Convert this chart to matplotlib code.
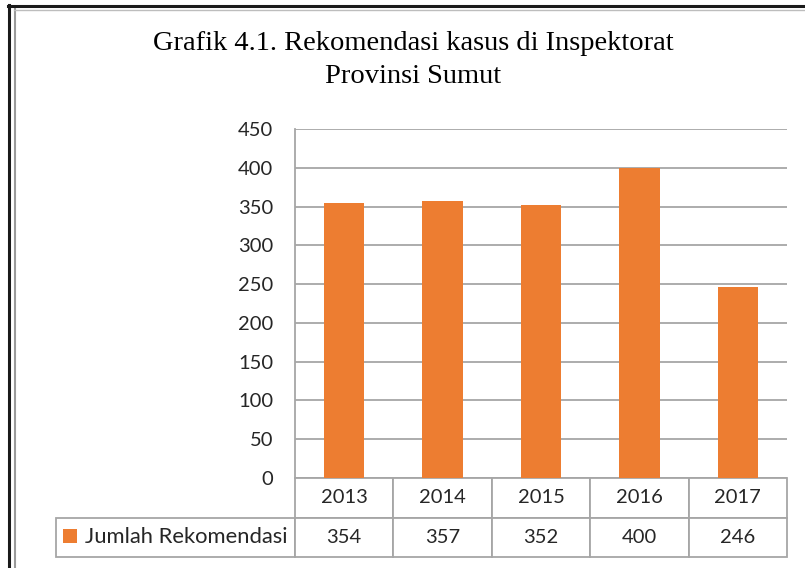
import matplotlib
matplotlib.use("Agg")
import matplotlib.pyplot as plt
from matplotlib.table import Table
from matplotlib.lines import Line2D
from matplotlib.patches import Rectangle

years = ["2013", "2014", "2015", "2016", "2017"]
values = [354, 357, 352, 400, 246]
series_name = "Jumlah Rekomendasi"
title_lines = ["Grafik 4.1. Rekomendasi kasus di Inspektorat", "Provinsi Sumut"]
yticks = [0, 50, 100, 150, 200, 250, 300, 350, 400, 450]

W, H = 805, 568
fig = plt.figure(figsize=(W / 100, H / 100), dpi=100)
fig.patch.set_facecolor("white")

# axes geometry in pixels
L, R, T, B = 295, 787, 129, 478
AW, AH = R - L, B - T
ax = fig.add_axes([L / W, 1 - B / H, AW / W, AH / H])

bar_color = "#ED7D31"
grid_color = "#A6A6A6"
text_color = "#262626"
sans = ["Lato", "DejaVu Sans"]

x = list(range(len(years)))
ax.bar(x, values, width=0.41, color=bar_color, zorder=3)
ax.set_xlim(-0.5, len(years) - 0.5)
ax.set_ylim(0, 450)
ax.set_yticks(yticks)
ax.set_xticks([])
ax.yaxis.grid(True, color=grid_color, linewidth=1.3, zorder=0)
ax.set_axisbelow(True)
for s in ["top", "right", "bottom"]:
    ax.spines[s].set_visible(False)
ax.spines["left"].set_color(grid_color)
ax.spines["left"].set_linewidth(1.3)
ax.tick_params(axis="y", length=0, pad=15.5, labelsize=14.5, labelcolor=text_color)
for lab in ax.get_yticklabels():
    lab.set_fontfamily(sans)

# data table below the axes (axes-fraction units)
row_h = 39.5 / AH
col_w = 1.0 / len(years)
label_w = (L - 56) / AW
tbl = Table(ax, loc="bottom")
cells = []
for j, yr in enumerate(years):
    cells.append(tbl.add_cell(0, j, width=col_w, height=row_h, text=yr, loc="center",
                              edgecolor=grid_color, facecolor="white"))
lab_cell = tbl.add_cell(1, -1, width=label_w, height=row_h, text=series_name,
                        loc="right", edgecolor=grid_color, facecolor="white")
lab_cell.PAD = 0.033
cells.append(lab_cell)
for j, v in enumerate(values):
    cells.append(tbl.add_cell(1, j, width=col_w, height=row_h, text=str(v), loc="center",
                              edgecolor=grid_color, facecolor="white"))
tbl.auto_set_font_size(False)
tbl.set_fontsize(14.5)
for cell in cells:
    cell.set_linewidth(1.3)
    cell.get_text().set_fontfamily(sans)
    cell.get_text().set_color(text_color)
lab_cell.get_text().set_fontsize(15.8)
ax.add_table(tbl)

# legend key square in the table row label
ax.add_patch(Rectangle(((63 - L) / AW, (B - 543) / AH), 14 / AW, 14 / AH,
                       transform=ax.transAxes, facecolor=bar_color,
                       edgecolor="none", clip_on=False, zorder=5))

# title
for txt, base in zip(title_lines, [50, 83]):
    fig.text(413 / W, 1 - base / H, txt, ha="center", va="baseline",
             fontfamily="Liberation Serif", fontsize=20.5, color="black")

# frame lines
fig.add_artist(Line2D([9 / W, 9 / W], [0, 1 - 5 / H], color="#1a1a1a", lw=2.2,
                      transform=fig.transFigure))
fig.add_artist(Line2D([14.5 / W, 14.5 / W], [0, 1 - 9 / H], color="#9a9a9a", lw=1.5,
                      transform=fig.transFigure))
fig.add_artist(Line2D([8 / W, 1], [1 - 6 / H, 1 - 6 / H], color="#1a1a1a", lw=2.2,
                      transform=fig.transFigure))
fig.add_artist(Line2D([14 / W, 1], [1 - 9.5 / H, 1 - 9.5 / H], color="#bdbdbd", lw=1,
                      transform=fig.transFigure))

fig.savefig("out.png", dpi=100)
